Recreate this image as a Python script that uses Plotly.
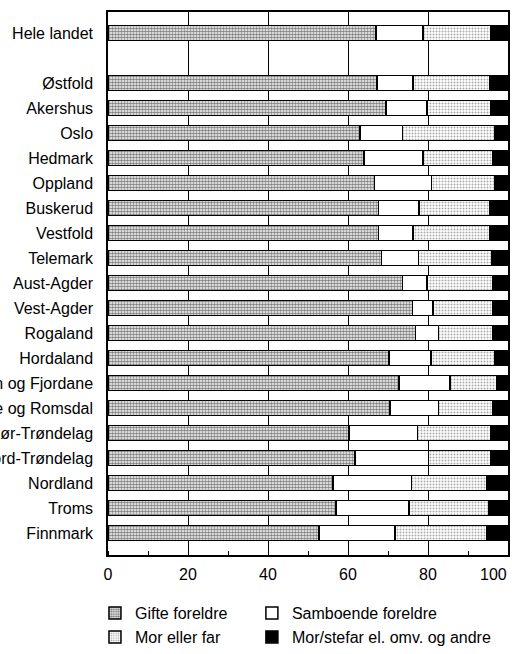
import plotly.graph_objects as go

categories = ["Hele landet", "Østfold", "Akershus", "Oslo", "Hedmark", "Oppland",
              "Buskerud", "Vestfold", "Telemark", "Aust-Agder", "Vest-Agder",
              "Rogaland", "Hordaland", "Sogn og Fjordane", "Møre og Romsdal",
              "Sør-Trøndelag", "Nord-Trøndelag", "Nordland", "Troms", "Finnmark"]
order = ["Hele landet", " "] + categories[1:]

gifte = [67.0, 67.2, 69.5, 63.0, 64.0, 66.6, 67.6, 67.6, 68.4, 73.6, 76.1,
         76.9, 70.3, 72.8, 70.5, 60.3, 61.7, 56.3, 57.0, 52.8]
samboende = [11.7, 9.1, 10.3, 10.6, 14.7, 14.3, 10.2, 8.6, 9.2, 6.1, 5.1,
             5.7, 10.5, 12.7, 12.1, 17.1, 18.4, 19.6, 18.3, 19.0]
mor_eller_far = [17.0, 19.2, 15.9, 23.0, 17.5, 15.8, 17.7, 19.3, 18.3, 16.5, 15.0,
                 13.7, 15.9, 11.8, 13.6, 18.3, 15.6, 18.8, 19.8, 22.9]
andre = [round(100 - a - b - c, 1) for a, b, c in zip(gifte, samboende, mor_eller_far)]

x_tickvals = [0, 20, 40, 60, 80, 100]
x_ticktext = ["0", "20", "40", "60", "80", ""]
x_last_label = "100"

series = [
    ("Gifte foreldre", gifte, "legend",
     dict(color="white", pattern=dict(shape=".", fgcolor="#000000", bgcolor="white", size=3, solidity=0.6))),
    ("Samboende foreldre", samboende, "legend2", dict(color="white")),
    ("Mor eller far", mor_eller_far, "legend3",
     dict(color="white", pattern=dict(shape=".", fgcolor="#555555", bgcolor="white", size=3, solidity=0.35))),
    ("Mor/stefar el. omv. og andre", andre, "legend4", dict(color="black")),
]

fig = go.Figure()
for name, vals, lg, mk in series:
    mk = dict(mk)
    mk["line"] = dict(color="black", width=1.5)
    fig.add_trace(go.Bar(x=vals, y=categories, name=name, orientation="h",
                         marker=mk, width=0.6, legend=lg))

def leg(x, y):
    return dict(orientation="h", x=x, y=y, xref="container", yref="container",
                xanchor="left", yanchor="top",
                font=dict(size=16), itemclick=False, bgcolor="rgba(0,0,0,0)",
                borderwidth=0)

fig.update_layout(
    barmode="stack",
    width=512, height=654,
    margin=dict(l=108, r=4, t=12, b=99, autoexpand=False),
    paper_bgcolor="white", plot_bgcolor="white",
    font=dict(family="Liberation Sans, Arial, sans-serif", size=16, color="black"),
    showlegend=True,
    legend=leg(0.1855, 0.0887),
    legend2=leg(0.492, 0.0887),
    legend3=leg(0.1855, 0.052),
    legend4=leg(0.492, 0.052),
    bargap=0.4,
)
fig.add_annotation(x=x_tickvals[-1], xref="x", y=0, yref="paper", text=x_last_label,
                   xanchor="right", yanchor="top", yshift=-10, showarrow=False,
                   font=dict(size=16), borderpad=0)
fig.update_xaxes(range=[0, 100], tickvals=x_tickvals, ticktext=x_ticktext,
                 showgrid=True, gridcolor="black", gridwidth=1.3,
                 showline=True, linecolor="black", linewidth=1.5, mirror=True,
                 ticks="", zeroline=False, ticklabelstandoff=4, ticklabeloverflow="allow",
                 automargin=False,
                 minor=dict(ticks="inside", ticklen=4, tickwidth=1.2, tickcolor="black", dtick=10, showgrid=False))
fig.update_yaxes(type="category", categoryorder="array", categoryarray=order,
                 range=[20.88, -0.84], showgrid=False, showline=True, linecolor="black",
                 linewidth=1.5, mirror=True, ticks="", ticklabelstandoff=10, automargin=False,
                 ticklabeloverflow="allow")

fig.write_html("out.html", config={"displayModeBar": False},
               post_script="document.body.style.margin='0';")
